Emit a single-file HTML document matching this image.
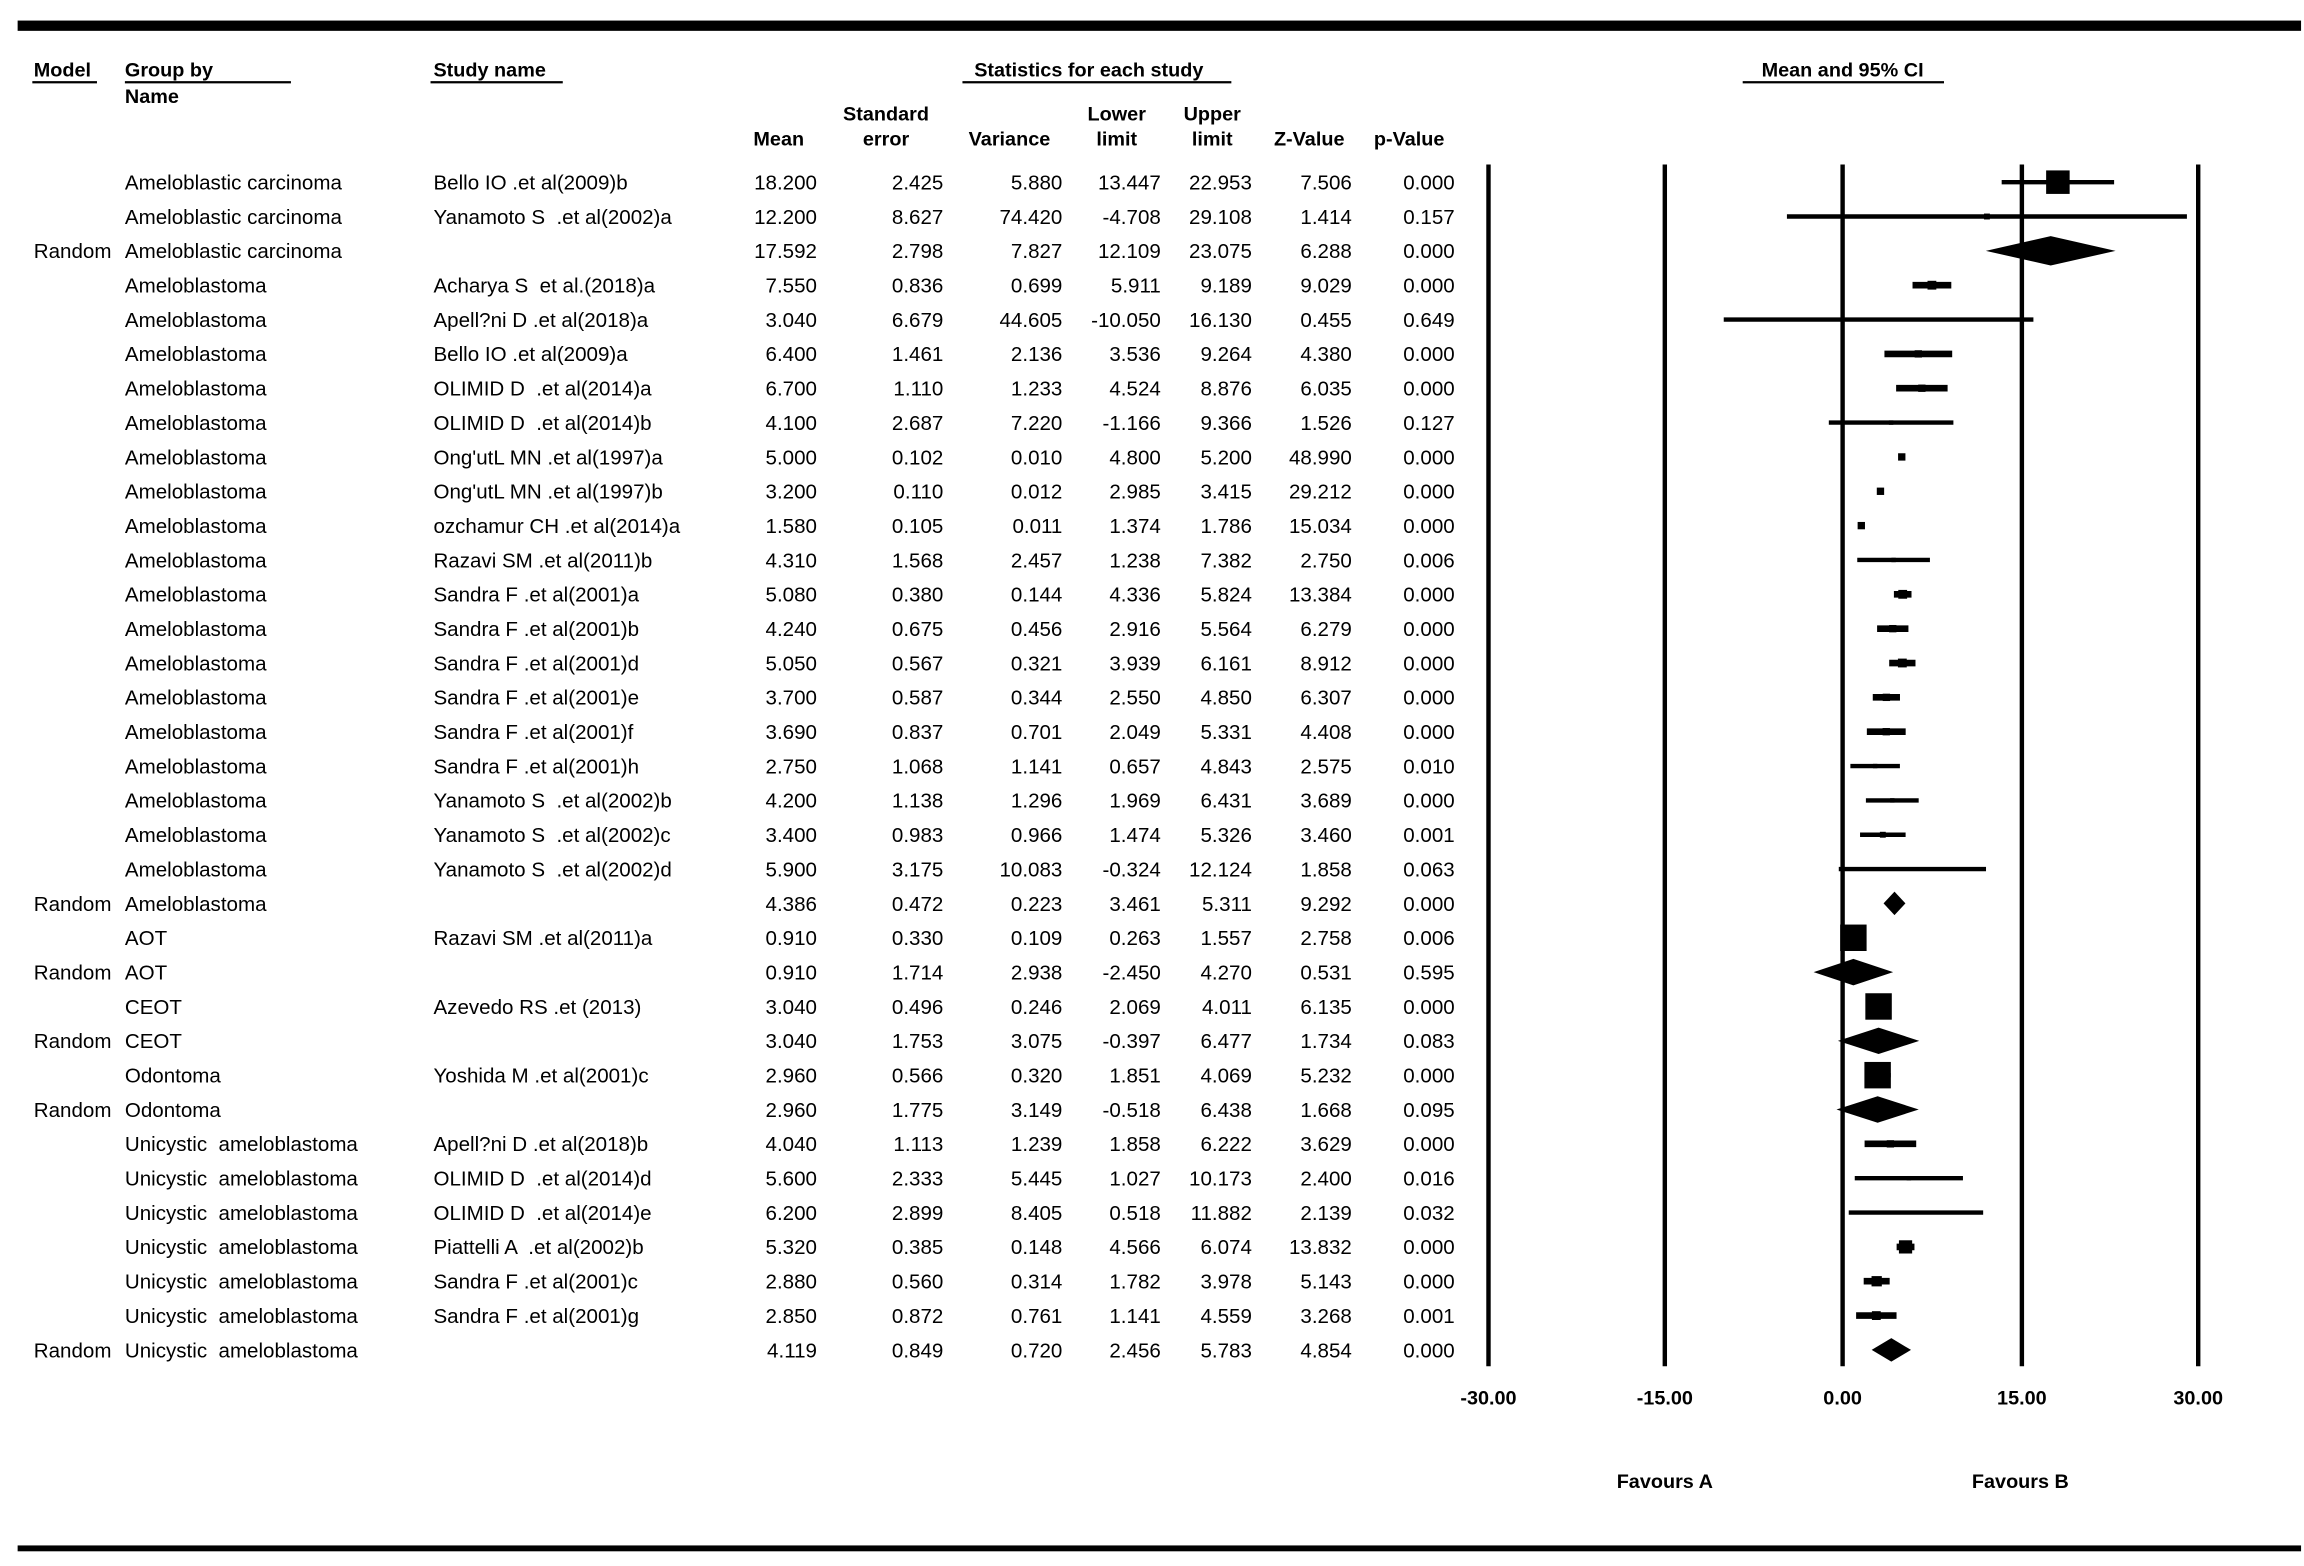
<!DOCTYPE html>
<html><head><meta charset="utf-8"><style>
html,body{margin:0;padding:0;background:#fff;}
svg{display:block;}
text{font-family:"Liberation Sans",Arial,sans-serif;font-size:14px;fill:#000;white-space:pre;}
.b{font-weight:bold;font-size:13.5px;}
</style></head><body>
<svg id="s" width="2304" height="1566" viewBox="0 0 1568 1066" preserveAspectRatio="none" xmlns="http://www.w3.org/2000/svg" xml:space="preserve">
<rect x="12" y="14" width="1554" height="7" fill="#000"/>
<rect x="12" y="1052" width="1554" height="4" fill="#000"/>
<g class="b">
<text x="23" y="52" class="b">Model</text>
<text x="85" y="52" class="b">Group by</text>
<text x="85" y="70" class="b">Name</text>
<text x="295" y="52" class="b">Study name</text>
<text x="741" y="52" text-anchor="middle" class="b">Statistics for each study</text>
<text x="1254" y="52" text-anchor="middle" class="b">Mean and 95% CI</text>
<text x="530" y="99" text-anchor="middle" class="b">Mean</text>
<text x="603" y="82" text-anchor="middle" class="b">Standard</text>
<text x="603" y="99" text-anchor="middle" class="b">error</text>
<text x="687" y="99" text-anchor="middle" class="b">Variance</text>
<text x="760" y="82" text-anchor="middle" class="b">Lower</text>
<text x="760" y="99" text-anchor="middle" class="b">limit</text>
<text x="825" y="82" text-anchor="middle" class="b">Upper</text>
<text x="825" y="99" text-anchor="middle" class="b">limit</text>
<text x="891" y="99" text-anchor="middle" class="b">Z-Value</text>
<text x="959" y="99" text-anchor="middle" class="b">p-Value</text>
</g>
<g stroke="#000" stroke-width="1.5">
<line x1="22" y1="56" x2="66" y2="56"/>
<line x1="85" y1="56" x2="198" y2="56"/>
<line x1="293" y1="56" x2="383" y2="56"/>
<line x1="655" y1="56" x2="838" y2="56"/>
<line x1="1186" y1="56" x2="1323" y2="56"/>
</g>
<g stroke="#000" stroke-width="3">
<line x1="1013" y1="112" x2="1013" y2="930"/>
<line x1="1133" y1="112" x2="1133" y2="930"/>
<line x1="1254" y1="112" x2="1254" y2="930"/>
<line x1="1376" y1="112" x2="1376" y2="930"/>
<line x1="1496" y1="112" x2="1496" y2="930"/>
</g>
<g class="b" text-anchor="middle">
<text x="1013" y="956" class="b">-30.00</text>
<text x="1133" y="956" class="b">-15.00</text>
<text x="1254" y="956" class="b">0.00</text>
<text x="1376" y="956" class="b">15.00</text>
<text x="1496" y="956" class="b">30.00</text>
<text x="1133" y="1013" class="b">Favours A</text>
<text x="1375" y="1013" class="b">Favours B</text>
</g>
<g id="rows"></g>
</svg>
<script>
var R=[
["","Ameloblastic carcinoma","Bello IO .et al(2009)b","18.200","2.425","5.880","13.447","22.953","7.506","0.000",16],
["","Ameloblastic carcinoma","Yanamoto S  .et al(2002)a","12.200","8.627","74.420","-4.708","29.108","1.414","0.157",4],
["Random","Ameloblastic carcinoma","","17.592","2.798","7.827","12.109","23.075","6.288","0.000",-20],
["","Ameloblastoma","Acharya S  et al.(2018)a","7.550","0.836","0.699","5.911","9.189","9.029","0.000",6],
["","Ameloblastoma","Apell?ni D .et al(2018)a","3.040","6.679","44.605","-10.050","16.130","0.455","0.649",2],
["","Ameloblastoma","Bello IO .et al(2009)a","6.400","1.461","2.136","3.536","9.264","4.380","0.000",5],
["","Ameloblastoma","OLIMID D  .et al(2014)a","6.700","1.110","1.233","4.524","8.876","6.035","0.000",5],
["","Ameloblastoma","OLIMID D  .et al(2014)b","4.100","2.687","7.220","-1.166","9.366","1.526","0.127",3],
["","Ameloblastoma","Ong'utL MN .et al(1997)a","5.000","0.102","0.010","4.800","5.200","48.990","0.000",5],
["","Ameloblastoma","Ong'utL MN .et al(1997)b","3.200","0.110","0.012","2.985","3.415","29.212","0.000",5],
["","Ameloblastoma","ozchamur CH .et al(2014)a","1.580","0.105","0.011","1.374","1.786","15.034","0.000",5],
["","Ameloblastoma","Razavi SM .et al(2011)b","4.310","1.568","2.457","1.238","7.382","2.750","0.006",3],
["","Ameloblastoma","Sandra F .et al(2001)a","5.080","0.380","0.144","4.336","5.824","13.384","0.000",6],
["","Ameloblastoma","Sandra F .et al(2001)b","4.240","0.675","0.456","2.916","5.564","6.279","0.000",5],
["","Ameloblastoma","Sandra F .et al(2001)d","5.050","0.567","0.321","3.939","6.161","8.912","0.000",6],
["","Ameloblastoma","Sandra F .et al(2001)e","3.700","0.587","0.344","2.550","4.850","6.307","0.000",5],
["","Ameloblastoma","Sandra F .et al(2001)f","3.690","0.837","0.701","2.049","5.331","4.408","0.000",5],
["","Ameloblastoma","Sandra F .et al(2001)h","2.750","1.068","1.141","0.657","4.843","2.575","0.010",3],
["","Ameloblastoma","Yanamoto S  .et al(2002)b","4.200","1.138","1.296","1.969","6.431","3.689","0.000",3],
["","Ameloblastoma","Yanamoto S  .et al(2002)c","3.400","0.983","0.966","1.474","5.326","3.460","0.001",4],
["","Ameloblastoma","Yanamoto S  .et al(2002)d","5.900","3.175","10.083","-0.324","12.124","1.858","0.063",2],
["Random","Ameloblastoma","","4.386","0.472","0.223","3.461","5.311","9.292","0.000",-16],
["","AOT","Razavi SM .et al(2011)a","0.910","0.330","0.109","0.263","1.557","2.758","0.006",18],
["Random","AOT","","0.910","1.714","2.938","-2.450","4.270","0.531","0.595",-18],
["","CEOT","Azevedo RS .et (2013)","3.040","0.496","0.246","2.069","4.011","6.135","0.000",18],
["Random","CEOT","","3.040","1.753","3.075","-0.397","6.477","1.734","0.083",-18],
["","Odontoma","Yoshida M .et al(2001)c","2.960","0.566","0.320","1.851","4.069","5.232","0.000",18],
["Random","Odontoma","","2.960","1.775","3.149","-0.518","6.438","1.668","0.095",-18],
["","Unicystic  ameloblastoma","Apell?ni D .et al(2018)b","4.040","1.113","1.239","1.858","6.222","3.629","0.000",5],
["","Unicystic  ameloblastoma","OLIMID D  .et al(2014)d","5.600","2.333","5.445","1.027","10.173","2.400","0.016",3],
["","Unicystic  ameloblastoma","OLIMID D  .et al(2014)e","6.200","2.899","8.405","0.518","11.882","2.139","0.032",2],
["","Unicystic  ameloblastoma","Piattelli A  .et al(2002)b","5.320","0.385","0.148","4.566","6.074","13.832","0.000",9],
["","Unicystic  ameloblastoma","Sandra F .et al(2001)c","2.880","0.560","0.314","1.782","3.978","5.143","0.000",7],
["","Unicystic  ameloblastoma","Sandra F .et al(2001)g","2.850","0.872","0.761","1.141","4.559","3.268","0.001",6],
["Random","Unicystic  ameloblastoma","","4.119","0.849","0.720","2.456","5.783","4.854","0.000",-16]
];
var NS="http://www.w3.org/2000/svg",g=document.getElementById("rows");
function el(n,a,t){var e=document.createElementNS(NS,n);for(var k in a)e.setAttribute(k,a[k]);if(t!=null)e.textContent=t;g.appendChild(e);}
function X(v){return 1254+v*8.05;}
var right=[556,642,723,790,852,920,990];
R.forEach(function(r,i){
 var y=124+i*23.38,b=y+5;
 if(r[0])el("text",{x:23,y:b},r[0]);
 el("text",{x:85,y:b},r[1]);
 if(r[2])el("text",{x:295,y:b},r[2]);
 for(var j=0;j<7;j++)el("text",{x:right[j],y:b,"text-anchor":"end"},r[3+j]);
 var m=X(+r[3]),lo=X(+r[6]),hi=X(+r[7]),s=r[10];
 if(s<0){var h=-s/2;el("polygon",{points:lo+","+y+" "+m+","+(y-h)+" "+hi+","+y+" "+m+","+(y+h),fill:"#000"});}
 else{el("line",{x1:lo,y1:y,x2:hi,y2:y,stroke:"#000","stroke-width":(s>=5&&s<10?4.5:3)});
 el("rect",{x:m-s/2,y:y-s/2,width:s,height:s,fill:"#000"});}
});
</script>
</body></html>
